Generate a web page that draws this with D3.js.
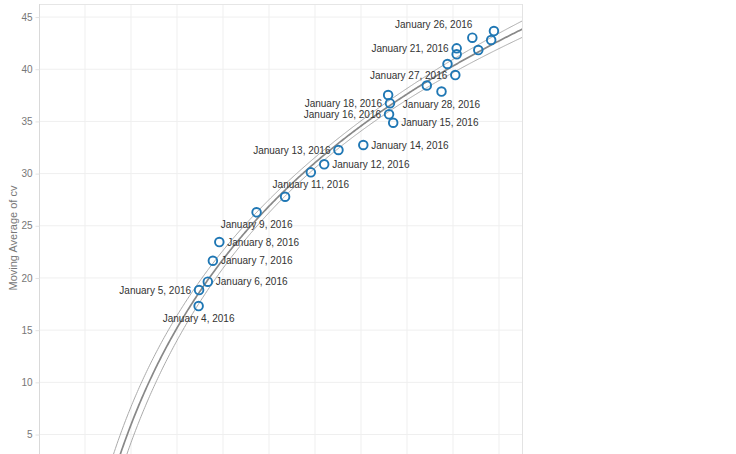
<!DOCTYPE html>
<html>
<head>
<meta charset="utf-8">
<script src="https://cdn.jsdelivr.net/npm/d3@7/dist/d3.min.js"></script>
<style>
  html, body { margin: 0; padding: 0; background: #fff; }
  svg { display: block; font-family: "Liberation Sans", Arial, sans-serif; }
</style>
</head>
<body>
<svg id="chart" width="736" height="454"></svg>
<script>
// ---- data ----
const dates = ["January 4, 2016","January 5, 2016","January 6, 2016","January 7, 2016","January 8, 2016",
  "January 9, 2016","January 10, 2016","January 11, 2016","January 12, 2016","January 13, 2016",
  "January 14, 2016","January 15, 2016","January 16, 2016","January 17, 2016","January 18, 2016",
  "January 19, 2016","January 20, 2016","January 21, 2016","January 22, 2016","January 23, 2016",
  "January 24, 2016","January 25, 2016","January 26, 2016","January 27, 2016","January 28, 2016"];
// hidden horizontal measure (its axis is outside the visible frame)
const xValues = [3.47,3.48,3.67,3.78,3.92,4.73,5.35,5.91,6.20,6.51,7.05,7.70,7.61,7.59,7.63,
  8.43,8.88,9.08,9.08,9.55,9.83,9.89,9.42,9.05,8.75];
// Moving Average of cv
const cvValues = [17.31,18.84,19.64,21.65,23.44,26.29,27.78,30.12,30.89,32.26,32.74,34.87,35.68,37.53,36.73,
  38.44,40.50,42.00,41.43,41.84,42.80,43.66,43.02,39.44,37.86];
// which points carry a mark label, and on which side
const labelSide = ["below","left","right","right","right","below","none","below","right","left",
  "right","right","left","none","left","none","none","left","none","none",
  "none","none","topleft","left","below"];
const yTicks = [5,10,15,20,25,30,35,40,45];
const xGridTicks = [1,2,3,4,5,6,7,8,9,10];
const yTitle = "Moving Average of cv";

// ---- layout ----
const svg = d3.select("#chart");
const paneLeft = 39, paneRight = 522, paneTop = 4, paneBottom = 486.7;
const x = d3.scaleLinear().domain([0, 10.5]).range([paneLeft, paneRight]);
const y = d3.scaleLinear().domain([0, 46.25]).range([paneBottom, paneTop]);

svg.append("defs").append("clipPath").attr("id","pane")
  .append("rect").attr("x", paneLeft).attr("y", paneTop)
  .attr("width", paneRight - paneLeft).attr("height", paneBottom - paneTop);

// gridlines
const grid = svg.append("g");
grid.selectAll("line.h").data(yTicks).join("line")
  .attr("x1", paneLeft).attr("x2", paneRight)
  .attr("y1", d => y(d)).attr("y2", d => y(d))
  .attr("stroke", "#efefef").attr("stroke-width", 1);
grid.selectAll("line.v").data(xGridTicks).join("line")
  .attr("x1", d => x(d)).attr("x2", d => x(d))
  .attr("y1", paneTop).attr("y2", paneBottom)
  .attr("stroke", "#efefef").attr("stroke-width", 1);
// pane borders
grid.append("line").attr("x1", paneLeft).attr("x2", paneRight).attr("y1", paneTop + 0.5).attr("y2", paneTop + 0.5)
  .attr("stroke", "#e6e6e6");
grid.append("line").attr("x1", paneRight + 0.5).attr("x2", paneRight + 0.5).attr("y1", paneTop).attr("y2", paneBottom)
  .attr("stroke", "#e3e3e3");

// y axis
const yAxis = d3.axisLeft(y).tickValues(yTicks).tickSize(4).tickPadding(3);
const gy = svg.append("g").attr("transform", `translate(${paneLeft + 0.5},0)`).call(yAxis);
gy.select(".domain").attr("stroke", "#d9d9d9").attr("d", `M0,${paneTop}V${paneBottom}`);
gy.selectAll(".tick line").attr("stroke", "#e3e3e3");
gy.selectAll(".tick text").attr("fill", "#777").style("font-size", "10px")
  .style("font-family", "'Liberation Sans', Arial, sans-serif");

svg.append("text")
  .attr("transform", `translate(13,238) rotate(-90)`)
  .attr("text-anchor", "middle").attr("dy", "0.35em")
  .attr("fill", "#777").style("font-size", "11px")
  .text(yTitle);

// ---- logarithmic trend with 95% confidence band ----
const n = xValues.length;
const u = xValues.map(v => Math.log(v));
const ubar = d3.mean(u), vbar = d3.mean(cvValues);
let sxx = 0, sxy = 0;
for (let i = 0; i < n; i++) { sxx += (u[i]-ubar)**2; sxy += (u[i]-ubar)*(cvValues[i]-vbar); }
const slope = sxy / sxx, icpt = vbar - slope * ubar;
let sse = 0;
for (let i = 0; i < n; i++) sse += (cvValues[i] - (icpt + slope*u[i]))**2;
const s = Math.sqrt(sse / (n - 2));
const tcrit = 2.069;
const samples = d3.range(1.2, 10.6, 0.02);
const fit = xv => icpt + slope * Math.log(xv);
const half = xv => tcrit * s * Math.sqrt(1/n + (Math.log(xv) - ubar)**2 / sxx);

const trend = svg.append("g").attr("clip-path", "url(#pane)");
const line = d3.line().curve(d3.curveLinear);
trend.append("path").attr("fill","none").attr("stroke","#aaaaaa").attr("stroke-width",1)
  .attr("d", line(samples.map(xv => [x(xv), y(fit(xv) + half(xv))])));
trend.append("path").attr("fill","none").attr("stroke","#aaaaaa").attr("stroke-width",1)
  .attr("d", line(samples.map(xv => [x(xv), y(fit(xv) - half(xv))])));
trend.append("path").attr("fill","none").attr("stroke","#888888").attr("stroke-width",1.7)
  .attr("d", line(samples.map(xv => [x(xv), y(fit(xv))])));

// ---- points ----
const pts = d3.range(n).map(i => ({x: xValues[i], v: cvValues[i], date: dates[i], side: labelSide[i]}));
svg.append("g").selectAll("circle").data(pts).join("circle")
  .attr("cx", d => x(d.x)).attr("cy", d => y(d.v)).attr("r", 4.3)
  .attr("fill", "none").attr("stroke", "#1f77b4").attr("stroke-width", 1.9);

// ---- labels ----
const lab = svg.append("g").style("font-size", "10px").attr("fill", "#333");
pts.filter(d => d.side !== "none").forEach(d => {
  const px = x(d.x), py = y(d.v);
  let tx = px, ty = py, anchor = "start";
  if (d.side === "right") { tx = px + 8; anchor = "start"; }
  else if (d.side === "left") { tx = px - 8; anchor = "end"; }
  else if (d.side === "below") { ty = py + 12.5; anchor = "middle"; }
  else if (d.side === "topleft") { ty = py - 13; anchor = "end"; }
  lab.append("text").attr("x", tx).attr("y", ty).attr("dy", "0.35em")
    .attr("text-anchor", anchor).text(d.date);
});
</script>
</body>
</html>
